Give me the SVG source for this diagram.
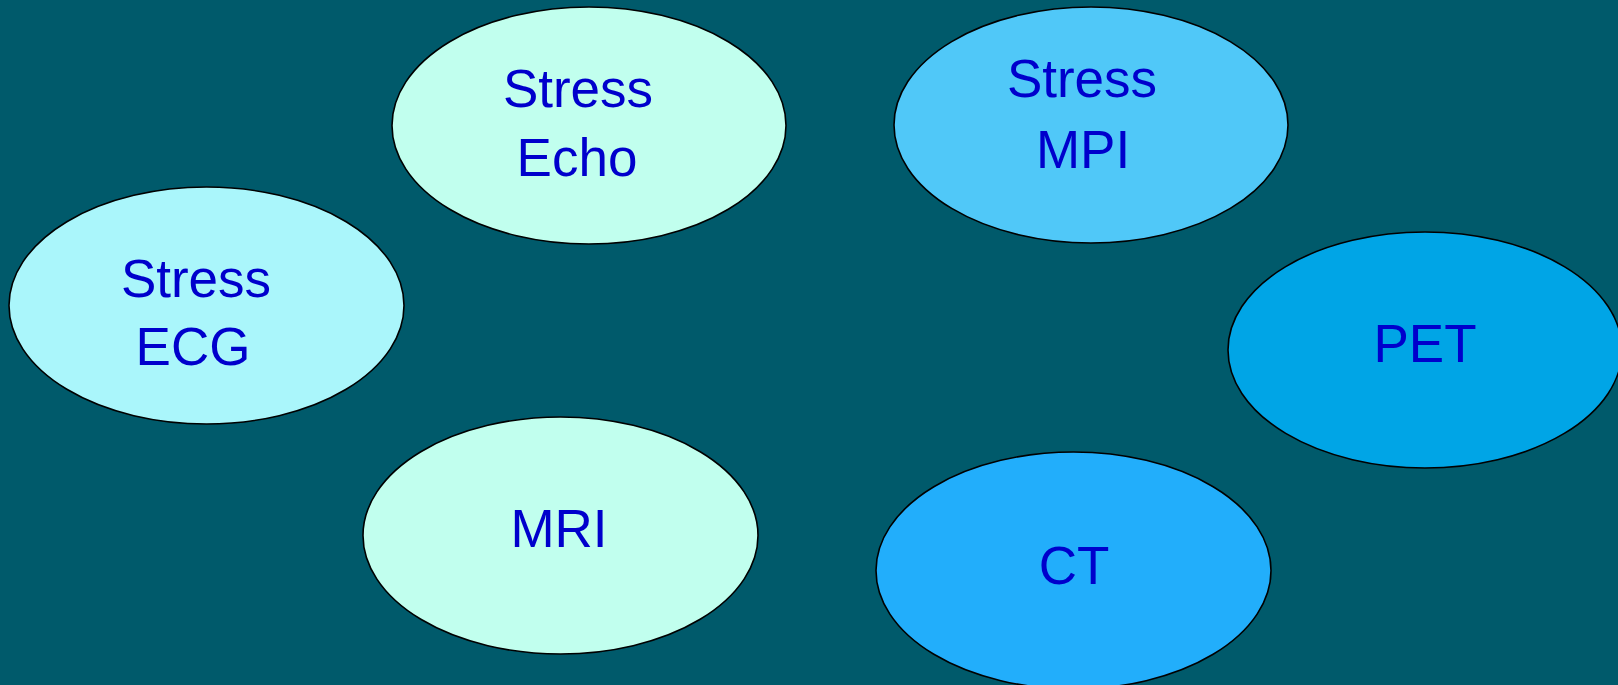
<svg xmlns="http://www.w3.org/2000/svg" width="1618" height="685" viewBox="0 0 1618 685">
<style>
.n ellipse{stroke:#000;stroke-width:1.6}
.n text{font-family:"Liberation Sans",Arial,sans-serif;font-size:53px;fill:#0000CC;text-anchor:middle}
</style>
<rect x="0" y="0" width="1618" height="685" fill="#005A6B"/>
<g id="connectors"></g>
<g id="stress-echo" class="n">
<ellipse cx="589" cy="125.5" rx="197" ry="118.5" fill="#C1FFEE"/>
<text x="578" y="107">Stress</text>
<text x="577" y="176">Echo</text>
</g>
<g id="stress-mpi" class="n">
<ellipse cx="1091" cy="125" rx="197" ry="118" fill="#50C8F8"/>
<text x="1082" y="97">Stress</text>
<text x="1083" y="168">MPI</text>
</g>
<g id="stress-ecg" class="n">
<ellipse cx="206.5" cy="305.5" rx="197.5" ry="118.5" fill="#AAF6FB"/>
<text x="196" y="297">Stress</text>
<text x="193" y="365">ECG</text>
</g>
<g id="pet" class="n">
<ellipse cx="1425" cy="350" rx="197" ry="118" fill="#00A5E6"/>
<text x="1425" y="362">PET</text>
</g>
<g id="mri" class="n">
<ellipse cx="560.5" cy="535.5" rx="197.5" ry="118.5" fill="#C1FFEE"/>
<text x="559" y="547">MRI</text>
</g>
<g id="ct" class="n">
<ellipse cx="1073.5" cy="570.5" rx="197.5" ry="118.5" fill="#22AEFB"/>
<text x="1074" y="584">CT</text>
</g>
</svg>
